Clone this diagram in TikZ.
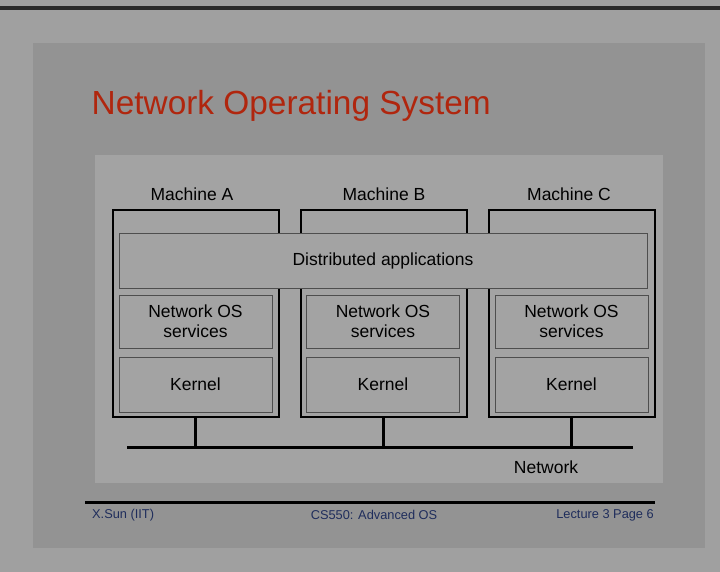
\documentclass[tikz,border=0pt]{standalone}
\usepackage{fontspec}
\setmainfont{Liberation Sans}
\definecolor{outergray}{HTML}{A0A0A0}
\definecolor{slidegray}{HTML}{939393}
\definecolor{panelgray}{HTML}{A3A3A3}
\definecolor{topbar}{HTML}{2A2A2A}
\definecolor{layerline}{HTML}{4E4E4E}
\definecolor{titlered}{HTML}{B0260E}
\definecolor{footblue}{HTML}{1F2D5C}

\begin{document}
\begin{tikzpicture}[x=1pt,y=-1pt,
	machine/.style={draw,line width=2pt,minimum width=166pt,minimum height=206pt,inner sep=0pt},
	layer/.style={draw=layerline,line width=1pt,fill=panelgray,inner sep=0pt,minimum width=153pt},
	lbl/.style={font=\fontsize{17.5}{20}\selectfont,align=center},
	foot/.style={font=\fontsize{12.8}{14}\selectfont,text=footblue,inner sep=0pt}]
		% slide background
		\useasboundingbox (0,0) rectangle (720,572);
		\fill[outergray] (0,0) rectangle (720,572);
		\fill[topbar] (0,6) rectangle (720,10);
		\fill[slidegray] (33,43) rectangle (705,548);
		\fill[panelgray] (95,155) rectangle (663,483);
		\draw (91.5,115) node [anchor=base west,inner sep=0pt,text=titlered,font=\fontsize{33.4}{36}\selectfont] (title) {Network Operating System};
		% machines
		\draw (192,194) node [lbl] (labA) {Machine A};
		\draw (384,194) node [lbl] (labB) {Machine B};
		\draw (569,194) node [lbl] (labC) {Machine C};
		\draw node at (195.5,313.5) [machine] (mA) {};
		\draw node at (383.5,313.5) [machine] (mB) {};
		\draw node at (571.5,313.5) [machine] (mC) {};
		\draw node at (383,260.5) [layer,lbl,minimum width=528pt,minimum height=55pt] (dist) {Distributed applications};
		\draw node at (195.5,321.5) [layer,lbl,minimum height=53pt] (nosA) {Network OS\\services};
		\draw node at (383,321.5) [layer,lbl,minimum height=53pt] (nosB) {Network OS\\services};
		\draw node at (571.5,321.5) [layer,lbl,minimum height=53pt] (nosC) {Network OS\\services};
		\draw node at (195.5,384.5) [layer,lbl,minimum height=55pt] (kerA) {Kernel};
		\draw node at (383,384.5) [layer,lbl,minimum height=55pt] (kerB) {Kernel};
		\draw node at (571.5,384.5) [layer,lbl,minimum height=55pt] (kerC) {Kernel};
		% network
		\coordinate (netL) at (127,447);
		\coordinate (netR) at (633,447);
		\coordinate (tapA) at (195.5,447);
		\coordinate (tapB) at (383.5,447);
		\coordinate (tapC) at (571.5,447);
		\draw[line width=2.5pt] (mA.south) -- (tapA);
		\draw[line width=2.5pt] (mB.south) -- (tapB);
		\draw[line width=2.5pt] (mC.south) -- (tapC);
		\draw[line width=3pt] (netL) -- (netR);
		\draw (546,467) node [lbl] (net) {Network};
		% footer
		\coordinate (footL) at (85,502.5);
		\coordinate (footR) at (655,502.5);
		\draw[line width=2.2pt] (footL) -- (footR);
		\draw (92,515) node [foot,anchor=west] (author) {X.Sun (IIT)};
		\draw (374,515) node [foot] (course) {CS550: Advanced OS};
		\draw (654,515) node [foot,anchor=east] (page) {Lecture 3 Page 6};
	\end{tikzpicture}
\end{document}
